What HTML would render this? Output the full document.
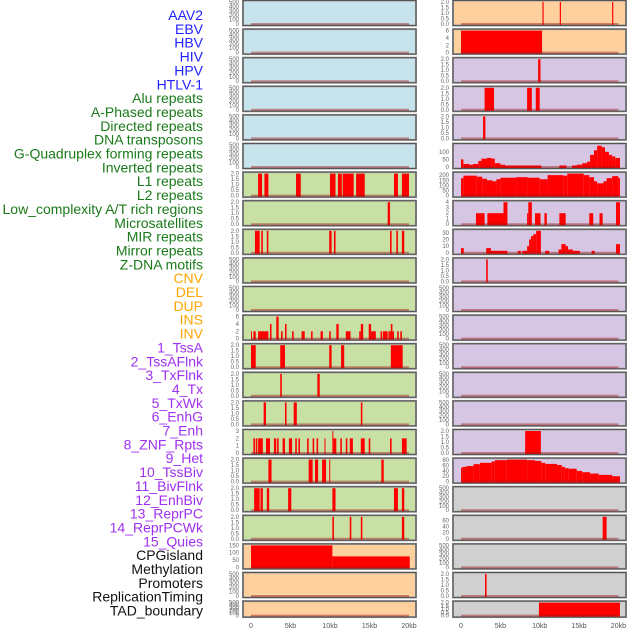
<!DOCTYPE html>
<html><head><meta charset="utf-8"><style>
html,body{margin:0;padding:0;background:#fff;}
svg{display:block;}
text{font-family:"Liberation Sans",sans-serif;}
</style></head><body>
<svg id="chart" width="630" height="630" viewBox="0 0 630 630" xmlns="http://www.w3.org/2000/svg"></svg>
<script>
const rowLabels = ["AAV2","EBV","HBV","HIV","HPV","HTLV-1","Alu repeats","A-Phased repeats","Directed repeats","DNA transposons","G-Quadruplex forming repeats","Inverted repeats","L1 repeats","L2 repeats","Low_complexity A/T rich regions","Microsatellites","MIR repeats","Mirror repeats","Z-DNA motifs","CNV","DEL","DUP","INS","INV","1_TssA","2_TssAFlnk","3_TxFlnk","4_Tx","5_TxWk","6_EnhG","7_Enh","8_ZNF_Rpts","9_Het","10_TssBiv","11_BivFlnk","12_EnhBiv","13_ReprPC","14_ReprPCWk","15_Quies","CPGisland","Methylation","Promoters","ReplicationTiming","TAD_boundary"];
const labelColors = ["#2222ff","#2222ff","#2222ff","#2222ff","#2222ff","#2222ff","#1a7a1a","#1a7a1a","#1a7a1a","#1a7a1a","#1a7a1a","#1a7a1a","#1a7a1a","#1a7a1a","#1a7a1a","#1a7a1a","#1a7a1a","#1a7a1a","#1a7a1a","#ffa500","#ffa500","#ffa500","#ffa500","#ffa500","#a030f0","#a030f0","#a030f0","#a030f0","#a030f0","#a030f0","#a030f0","#a030f0","#a030f0","#a030f0","#a030f0","#a030f0","#a030f0","#a030f0","#a030f0","#111","#111","#111","#111","#111"];
const xTickValues = [0,5,10,15,20];
const xTickLabels = ["0","5kb","10kb","15kb","20kb"];
const ticks2 = ["0.0","0.5","1.0","1.5","2.0"];
const ticks500 = ["0","100","200","300","400","500"];

// left column bars [startKb, endKb, value]
const L_L1 = [[0.9,1.4,2],[1.7,2.2,2],[5.7,6.3,2],[10.0,10.7,2],[11.0,11.5,2],[11.6,13.0,2],[13.3,14.4,2],[18.1,18.6,2],[19.1,20.0,2]];
const L_LowC = [[17.3,17.6,2]];
const L_MIR = [[0.5,1.1,2],[1.3,1.5,2],[2.0,2.2,2],[9.9,10.2,2],[10.5,10.7,2],[17.6,17.8,2],[18.4,18.6,2],[19.1,19.4,2]];
const L_INS = [[0,0.1,2],[0.3,0.6,2],[0.9,2.2,2],[2.4,2.6,4],[3.2,3.5,6],[3.8,4.0,2],[4.3,4.5,4],[5.2,5.4,2],[6.4,6.8,2],[7.6,7.8,2],[8.8,9.1,2],[9.9,10.1,2],[10.8,11.1,4],[12.0,12.6,2],[13.7,13.9,2],[13.9,14.2,4],[14.9,15.2,4],[15.2,15.8,2],[16.4,16.6,2],[16.7,17.3,2],[17.4,17.7,2],[17.7,17.9,4],[17.9,18.1,2],[18.5,18.7,2],[18.9,19.1,2]];
const L_TssA = [[0,0.6,2],[3.7,4.3,2],[9.9,10.2,2],[11.4,11.8,2],[17.7,19.2,2]];
const L_TssAFlnk = [[3.7,3.9,2],[8.4,8.7,2]];
const L_TxFlnk = [[1.6,1.9,2],[4.3,4.5,2],[5.4,5.8,2],[13.9,14.1,2]];
const L_Tx = [[0.3,0.5,2],[0.6,0.8,2],[0.9,1.5,2],[1.9,2.4,2],[2.9,3.2,2],[3.3,3.5,2],[4.0,4.3,2],[4.8,5.2,2],[5.6,5.8,2],[6.0,6.2,2],[7.1,7.3,2],[7.8,8.0,2],[8.3,8.5,2],[9.3,9.4,2],[10.3,10.4,3],[10.4,10.8,2],[11.3,11.5,2],[12.0,12.2,2],[12.5,12.9,2],[13.9,14.4,2],[14.9,15.1,2],[17.6,17.8,2],[19.1,19.7,2]];
const L_TxWk = [[2.2,2.6,2],[7.3,7.8,2],[8.1,8.5,2],[9.0,9.5,2],[9.9,10.0,2],[16.5,16.8,2]];
const L_EnhG = [[0.4,1.1,2],[1.2,1.5,2],[2.0,2.3,2],[4.7,5.1,2],[10.3,10.7,2],[18.1,18.6,2],[19.1,19.4,2]];
const L_Enh = [[10.3,10.5,2],[12.5,12.7,2],[13.9,14.1,2],[19.1,19.4,2]];
const L_Meth = [[0,10.3,150],[10.3,20.1,75]];

// right column bars
const R_0 = [[10.35,10.5,2],[12.55,12.7,2],[19.2,19.35,2]];
const R_1 = [[0,10.3,6]];
const R_2 = [[9.8,10.1,2]];
const R_3 = [[3.0,4.2,2],[8.4,9.0,2],[9.5,10.0,2]];
const R_4 = [[2.8,3.1,2]];
const R_5 = [[0,0.3,50],[0.3,1.06,20],[1.06,1.5,15],[1.5,2.2,20],[2.2,2.6,40],[2.6,3.3,55],[3.3,3.9,60],[3.9,4.3,55],[4.3,5.0,25],[5.0,5.6,15],[5.6,10.2,10],[12.5,13.4,10],[14.1,14.7,10],[14.7,15.4,15],[15.4,16.0,25],[16.0,16.4,35],[16.4,16.9,80],[16.9,17.3,110],[17.3,17.9,140],[17.9,18.3,130],[18.3,18.8,100],[18.8,19.2,80],[19.2,19.6,70],[19.6,20.2,60]];
const R_6 = [[0,0.3,170],[0.3,2.0,195],[2.0,2.7,185],[2.7,3.3,165],[3.3,4.0,150],[4.0,4.5,140],[4.5,5.0,160],[5.0,7.0,175],[7.0,8.5,180],[8.5,10.0,175],[10.0,11.0,160],[11.0,13.0,200],[13.0,13.5,195],[13.5,15.6,215],[15.6,16.3,200],[16.3,16.9,180],[16.9,17.3,140],[17.3,18.1,120],[18.1,18.5,140],[18.5,19.2,170],[19.2,20.0,190],[20.0,20.2,170]];
const R_7 = [[1.9,3.0,2],[3.35,5.4,2],[5.4,5.9,4],[8.4,8.55,2],[8.55,9.0,4],[9.4,10.1,2],[10.6,10.9,2],[12.5,13.3,2],[16.3,16.8,2],[17.6,18.0,2],[19.7,20.2,4]];
const R_8 = [[0,0.35,7],[3.2,3.8,7],[3.8,5.9,3],[7.2,7.6,3],[7.8,8.4,3],[8.4,8.65,10],[8.65,8.9,20],[8.9,9.2,25],[9.2,9.55,28],[9.55,10.15,33],[10.7,11.2,3],[12.4,12.75,5],[12.75,13.3,13],[13.3,13.6,10],[13.6,14.2,5],[14.2,15.1,3],[16.6,17.0,3],[19.7,20.2,13]];
const R_9 = [[3.2,3.4,2]];
const R_15 = [[8.15,10.15,2]];
const R_16 = [[0,0.2,52],[0.2,0.7,55],[0.7,1.6,58],[1.6,2.4,65],[2.4,3.9,70],[3.9,4.3,75],[4.3,5.8,80],[5.8,8.4,82],[8.4,9.4,80],[9.4,10.2,77],[10.2,10.7,70],[10.7,12.2,66],[12.2,12.8,62],[12.8,13.2,55],[13.2,13.7,50],[13.7,14.7,48],[14.7,15.4,40],[15.4,16.4,35],[16.4,17.5,30],[17.5,19.2,25],[19.2,20.2,20]];
const R_18 = [[18.0,18.5,72]];
const R_20 = [[3.05,3.25,2]];
const R_21 = [[9.9,20.2,2]];

const BLUE="#c7e3eb", GREEN="#c8e0a4", PEACH="#fed09e", PURPLE="#d6c6e3", GRAY="#d0d0d0";
const leftPanels = [
 {bg:BLUE,ticks:ticks500,max:500,bars:[]},{bg:BLUE,ticks:ticks500,max:500,bars:[]},{bg:BLUE,ticks:ticks500,max:500,bars:[]},
 {bg:BLUE,ticks:ticks500,max:500,bars:[]},{bg:BLUE,ticks:ticks500,max:500,bars:[]},{bg:BLUE,ticks:ticks500,max:500,bars:[]},
 {bg:GREEN,ticks:ticks2,max:2,bars:L_L1},{bg:GREEN,ticks:ticks2,max:2,bars:L_LowC},{bg:GREEN,ticks:ticks2,max:2,bars:L_MIR},
 {bg:GREEN,ticks:ticks500,max:500,bars:[]},{bg:GREEN,ticks:ticks500,max:500,bars:[]},
 {bg:GREEN,ticks:["0","2","4","6"],max:6,bars:L_INS},
 {bg:GREEN,ticks:ticks2,max:2,bars:L_TssA},{bg:GREEN,ticks:ticks2,max:2,bars:L_TssAFlnk},{bg:GREEN,ticks:ticks2,max:2,bars:L_TxFlnk},
 {bg:GREEN,ticks:["0","1","2","3"],max:3,bars:L_Tx},
 {bg:GREEN,ticks:ticks2,max:2,bars:L_TxWk},{bg:GREEN,ticks:ticks2,max:2,bars:L_EnhG},{bg:GREEN,ticks:ticks2,max:2,bars:L_Enh},
 {bg:PEACH,ticks:["0","50","100","150"],max:150,bars:L_Meth},
 {bg:PEACH,ticks:ticks500,max:500,bars:[]},{bg:PEACH,ticks:ticks500,max:500,bars:[]}
];
const rightPanels = [
 {bg:PEACH,ticks:ticks2,max:2,bars:R_0},{bg:PEACH,ticks:["0","2","4","6"],max:6,bars:R_1},
 {bg:PURPLE,ticks:ticks2,max:2,bars:R_2},{bg:PURPLE,ticks:ticks2,max:2,bars:R_3},{bg:PURPLE,ticks:ticks2,max:2,bars:R_4},
 {bg:PURPLE,ticks:["0","50","100"],max:145,bars:R_5},
 {bg:PURPLE,ticks:["0","50","100","150","200"],max:215,bars:R_6},
 {bg:PURPLE,ticks:["0","1","2","3","4"],max:4,bars:R_7},
 {bg:PURPLE,ticks:["0","10","20","30"],max:33,bars:R_8},
 {bg:PURPLE,ticks:ticks2,max:2,bars:R_9},
 {bg:PURPLE,ticks:ticks500,max:500,bars:[]},{bg:PURPLE,ticks:ticks500,max:500,bars:[]},{bg:PURPLE,ticks:ticks500,max:500,bars:[]},
 {bg:PURPLE,ticks:ticks500,max:500,bars:[]},{bg:PURPLE,ticks:ticks500,max:500,bars:[]},
 {bg:PURPLE,ticks:ticks2,max:2,bars:R_15},
 {bg:PURPLE,ticks:["0","20","40","60","80"],max:82,bars:R_16},
 {bg:GRAY,ticks:ticks500,max:500,bars:[]},
 {bg:GRAY,ticks:["0","20","40","60"],max:72,bars:R_18},
 {bg:GRAY,ticks:ticks500,max:500,bars:[]},
 {bg:GRAY,ticks:ticks2,max:2,bars:R_20},
 {bg:GRAY,ticks:ticks2,max:2,bars:R_21}
];

const NS="http://www.w3.org/2000/svg";
const svg=document.getElementById('chart');
function mk(tag,attrs,parent){const e=document.createElementNS(NS,tag);for(const k in attrs)e.setAttribute(k,attrs[k]);(parent||svg).appendChild(e);return e;}

// row labels
rowLabels.forEach((lab,i)=>{
  const t=mk('text',{x:203,y:15+i*13.85+5,'text-anchor':'end','font-size':'14',fill:labelColors[i]});
  t.textContent=lab;
  
  
});

function rowTop(i){return 0.5+i*28.6;}
function rowH(i){return i===21?16:25;}

function drawPanel(p,i,x0,x1,zeroX,kbPx,side){
  const top=rowTop(i), h=rowH(i), bot=top+h;
  const g=mk('g',{});
  
  
  mk('rect',{x:x0,y:top,width:x1-x0,height:h,fill:p.bg,stroke:'#9a9a9a','stroke-width':2},g);
  mk('rect',{x:x0,y:top,width:x1-x0,height:h,fill:'none',stroke:'#555','stroke-width':1},g);
  const yOf=v=>bot-1.5-v/p.max*(h-3);
  const xOf=kb=>zeroX+kb*kbPx;
  p.bars.forEach(b=>{
    const r=mk('rect',{x:xOf(b[0]),y:yOf(b[2]),width:Math.max(1,xOf(b[1])-xOf(b[0])),height:bot-0.5-yOf(b[2]),fill:'#ff0000'},g);
    
    
  });
  mk('line',{x1:xOf(0),x2:xOf(20),y1:bot-1.5,y2:bot-1.5,stroke:'rgba(160,20,20,0.45)','stroke-width':2},g);
  const n=p.ticks.length;
  p.ticks.forEach(tl=>{
    const v=parseFloat(tl);
    const t=mk('text',{x:x0-4,y:yOf(v)+2,'text-anchor':'end','font-size':'6',fill:'#666'},g);
    t.textContent=tl;
    
    
  });
}
leftPanels.forEach((p,i)=>drawPanel(p,i,243,416,251,7.9,'left'));
rightPanels.forEach((p,i)=>drawPanel(p,i,453,626,461,7.87,'right'));

[[251,7.9,'left'],[461,7.87,'right']].forEach(c=>{
  xTickValues.forEach((v,k)=>{
    const t=mk('text',{x:c[0]+v*c[1],y:628,'text-anchor':'middle','font-size':'7',fill:'#555'});
    t.textContent=xTickLabels[k];
    
    
  });
});
</script>
</body></html>
